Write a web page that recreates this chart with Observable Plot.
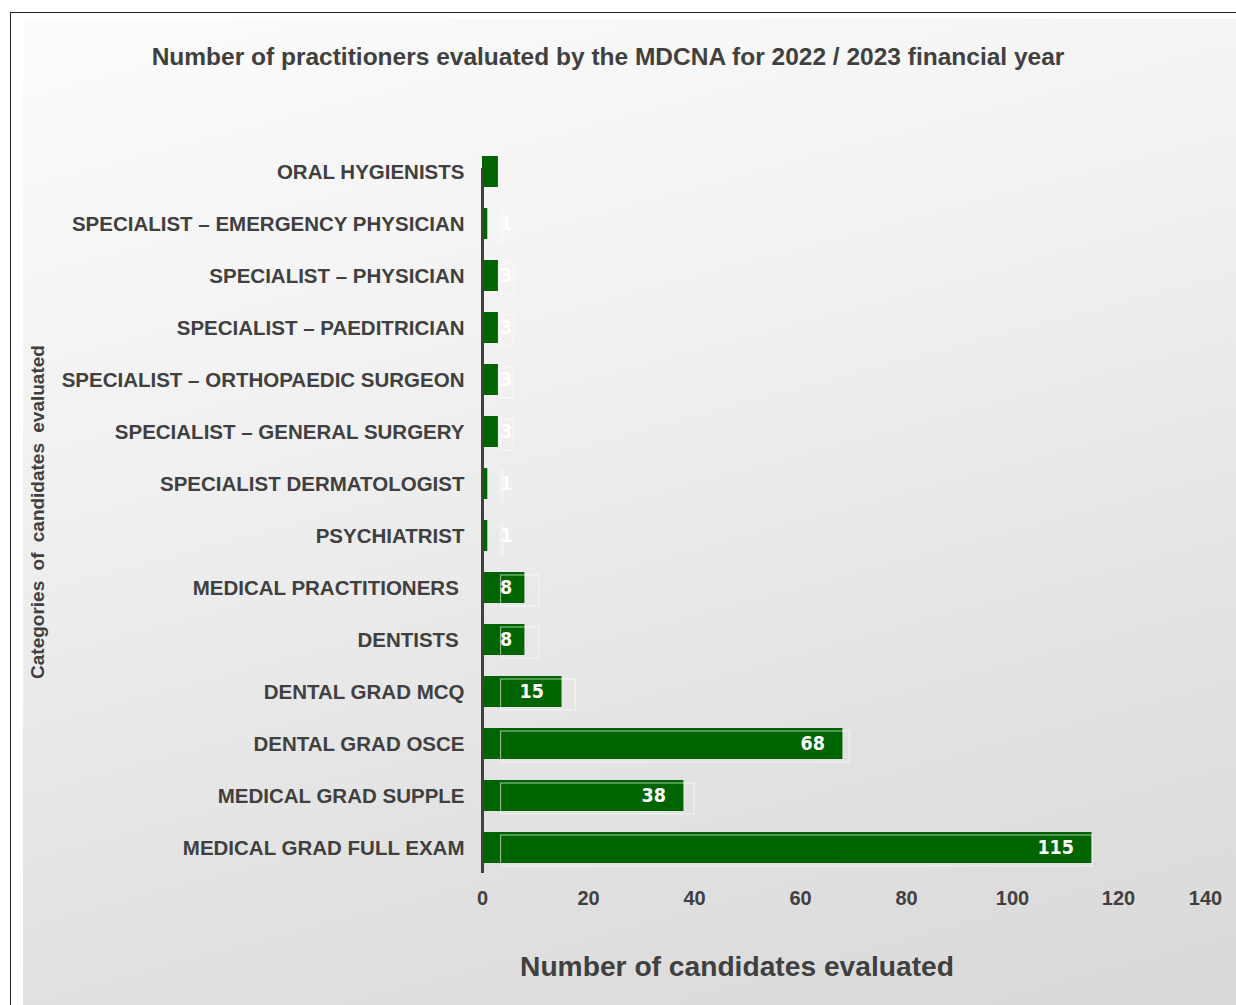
<!DOCTYPE html>
<html>
<head>
<meta charset="utf-8">
<script src="https://cdn.jsdelivr.net/npm/d3@7"></script>
<script src="https://cdn.jsdelivr.net/npm/@observablehq/plot@0.6"></script>
<style>
  html, body { margin: 0; padding: 0; background: #ffffff; }
  body { width: 1236px; height: 1005px; position: relative; overflow: hidden;
         font-family: "Liberation Sans", Arial, sans-serif; }
  #border { position: absolute; left: 10px; top: 12px; width: 1260px; height: 1020px;
            border: 1px solid #222; box-sizing: border-box; }
  #panel { position: absolute; left: 23px; top: 19px; width: 1240px; height: 1000px;
           background: linear-gradient(165deg, #fcfcfc 0%, #f1f1f1 35%, #e2e2e2 70%, #d8d8d8 100%); }
  #title { position: absolute; left: 0; width: 1216px; top: 44px; line-height: 26px;
           text-align: center; font-weight: bold; font-size: 24.5px; color: #404040; }
  #xtitle { position: absolute; left: 437px; width: 600px; top: 950px; line-height: 32px;
            text-align: center; font-weight: bold; font-size: 28.2px; color: #404040; }
  #ytitle { position: absolute; left: 38px; top: 512px; transform: translate(-50%, -50%) rotate(-90deg);
            white-space: nowrap; font-weight: bold; font-size: 19px; color: #404040; word-spacing: 5px; }
  #chart { position: absolute; left: 23px; top: 100px; }
</style>
</head>
<body>
<div id="border"></div>
<div id="panel"></div>
<div id="title">Number of practitioners evaluated by the MDCNA for 2022 / 2023 financial year</div>
<div id="ytitle">Categories of candidates evaluated</div>
<div id="chart"></div>
<div id="xtitle">Number of candidates evaluated</div>
<script>
const categories = [
  "ORAL HYGIENISTS",
  "SPECIALIST – EMERGENCY PHYSICIAN",
  "SPECIALIST – PHYSICIAN",
  "SPECIALIST – PAEDITRICIAN",
  "SPECIALIST – ORTHOPAEDIC SURGEON",
  "SPECIALIST – GENERAL SURGERY",
  "SPECIALIST DERMATOLOGIST",
  "PSYCHIATRIST",
  "MEDICAL PRACTITIONERS\u00a0",
  "DENTISTS\u00a0",
  "DENTAL GRAD MCQ",
  "DENTAL GRAD OSCE",
  "MEDICAL GRAD SUPPLE",
  "MEDICAL GRAD FULL EXAM"
];
const values = [3, 1, 3, 3, 3, 3, 1, 1, 8, 8, 15, 68, 38, 115];
const xTicks = [0, 20, 40, 60, 80, 100, 120];
const xLastTick = [140];

const data = categories.map((c, i) => ({category: c, value: values[i]}));
const labelled = data.filter(d => d.category !== "ORAL HYGIENISTS");

const textColor = "#404040";
const green = "#006400";

const chart = Plot.plot({
  width: 1213,
  height: 830,
  marginLeft: 459,
  marginRight: 12,
  marginTop: 35.5,
  marginBottom: 45.5,
  style: {background: "transparent", fontFamily: "'Liberation Sans', Arial, sans-serif", color: textColor},
  x: {domain: [0, 140]},
  y: {domain: categories, padding: 0.4},
  marks: [
    Plot.barX(data, {x: "value", y: "category", fill: green}),
    Plot.rectX(labelled, {
      x1: () => 3.5, x2: d => d.value * 0.975 + 3, y: "category",
      fill: "none", stroke: "#ffffff", strokeOpacity: 0.55, strokeWidth: 1.2, dy: 3
    }),
    Plot.text(labelled, {
      x: d => Math.max(d.value, 9), y: "category", text: d => String(d.value),
      textAnchor: "end", dx: -18, fill: "#ffffff", fontWeight: "bold", fontSize: 19.5,
      fontFamily: "'Liberation Sans Narrow', 'Arial Narrow', 'DejaVu Sans Condensed', sans-serif"
    }),
    Plot.ruleX([0], {stroke: textColor, strokeWidth: 3, insetTop: 32.4, insetBottom: 11.4}),
    Plot.axisY({tickSize: 0, tickPadding: 18, label: null, fontSize: 20.5, fontWeight: "bold", fill: textColor}),
    Plot.axisX({ticks: xTicks, tickSize: 0, tickPadding: 6, label: null, fontSize: 20, fontWeight: "bold", fill: textColor}),
    Plot.axisX({ticks: xLastTick, tickSize: 0, tickPadding: 6, label: null, fontSize: 20, fontWeight: "bold", fill: textColor, dx: -19})
  ]
});
document.getElementById("chart").appendChild(chart);
</script>
</body>
</html>
